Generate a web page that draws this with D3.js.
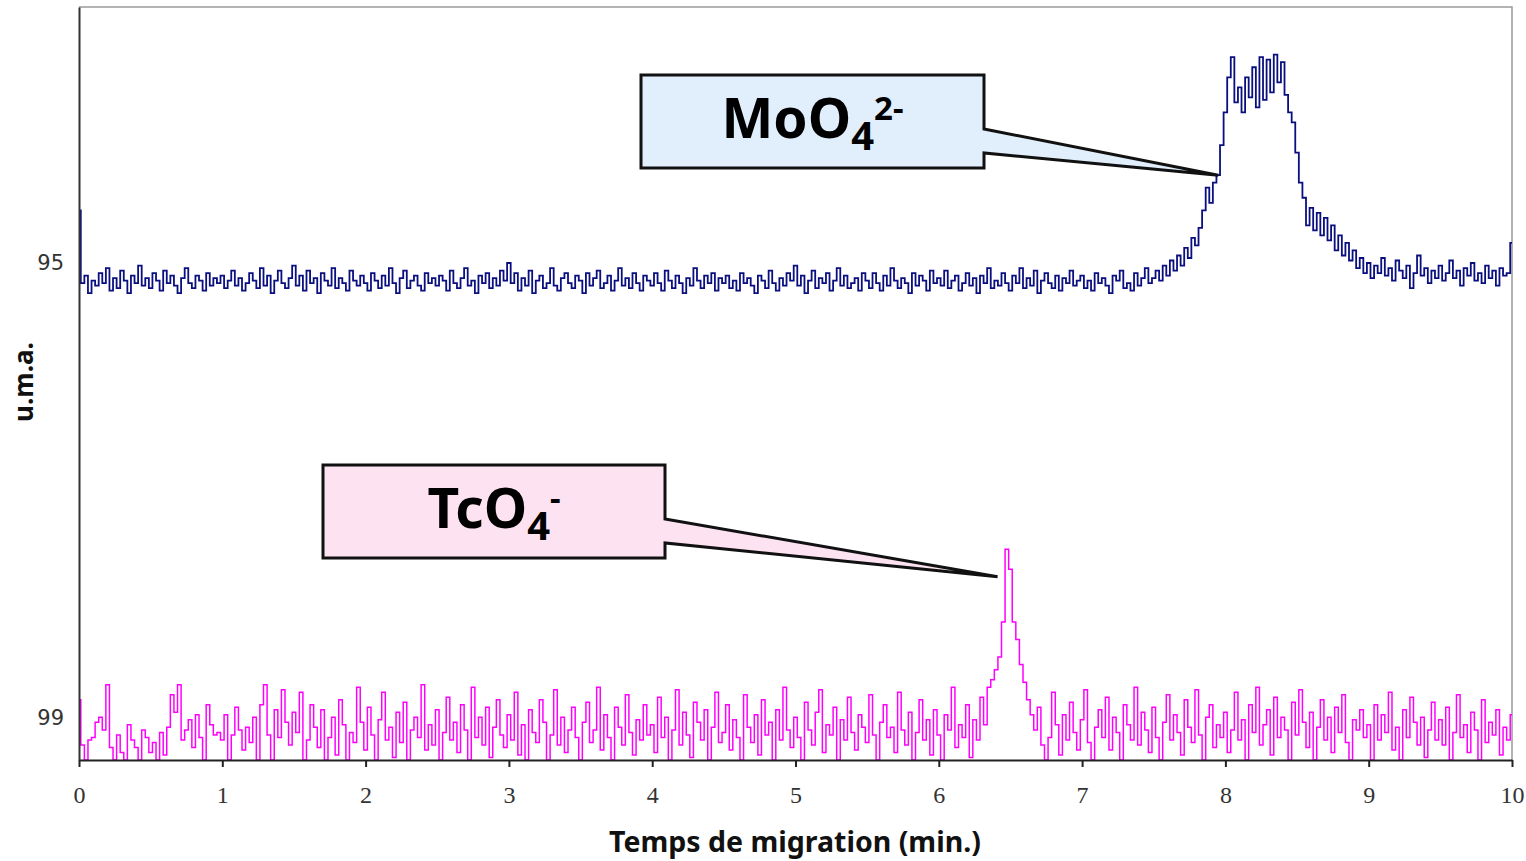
<!DOCTYPE html>
<html>
<head>
<meta charset="utf-8">
<script src="https://cdn.jsdelivr.net/npm/d3@7"></script>
<style>
  html, body { margin: 0; padding: 0; background: #ffffff; }
  svg { display: block; }
</style>
</head>
<body>
<svg id="chart" width="1526" height="861"></svg>
<script>
// Electropherogram: signal at m/z 95 (MoO4 2-) and m/z 99 (TcO4-), sampled every 0.025 min
const timeStep = 0.025;

// m/z 95 trace (arbitrary units, offset trace)
const mo95 = [
  219,190,193,186,191,189,194,190,196,187,192,188,195,191,186,193,190,197,189,192,
  188,194,191,187,195,190,193,189,186,192,196,190,188,193,191,187,194,189,192,190,
  193,188,191,195,189,192,187,190,194,191,188,196,189,193,186,191,195,190,188,192,
  197,189,193,187,195,190,192,186,194,191,189,196,188,192,190,187,195,191,189,193,
  190,187,194,191,188,193,189,196,190,186,192,195,188,191,193,189,187,194,190,192,
  189,193,191,187,195,190,188,192,196,189,191,186,193,190,194,188,192,189,195,191,
  198,190,194,187,192,189,195,186,191,193,188,190,196,189,187,192,194,190,188,193,
  191,186,194,189,192,195,188,190,193,187,191,196,189,192,188,194,190,187,193,191,
  189,194,190,187,195,191,188,193,190,186,192,189,196,191,188,193,190,194,187,192,
  190,193,188,191,187,194,190,192,189,186,193,191,188,195,190,187,192,189,194,191,
  197,189,193,186,191,195,188,192,190,194,187,191,196,189,193,188,190,192,187,194,
  191,188,194,190,187,193,189,196,191,188,192,190,186,194,189,193,191,187,195,190,
  192,189,195,188,191,193,187,190,194,189,192,186,193,190,196,188,191,189,194,190,
  187,193,190,196,188,192,189,195,186,191,194,190,188,193,187,192,190,195,189,191,
  193,188,191,187,194,190,192,189,186,193,191,195,188,190,187,194,189,192,196,190,
  192,195,191,197,193,199,195,201,197,204,200,208,205,212,219,228,222,230,233,245,
  258,272,280,262,268,258,272,264,276,260,280,263,279,266,281,270,278,265,258,254,
  242,230,224,213,220,211,218,209,216,207,213,203,209,201,206,199,203,196,200,194,
  198,192,197,194,200,193,196,191,199,195,192,197,188,194,201,193,196,190,195,192,
  197,191,194,199,192,195,189,196,193,198,191,194,190,197,192,195,189,196,193,194,
  206
];

// m/z 99 trace (arbitrary units)
const tc99 = [
  24,6,0,8,9,15,17,12,30,5,0,10,3,0,14,8,5,0,12,9,
  3,7,0,11,2,13,26,19,30,8,12,16,5,18,9,0,22,14,10,11,
  8,18,0,10,21,12,4,13,7,17,0,22,30,10,0,20,9,28,15,6,
  19,11,27,0,8,22,13,5,20,0,9,17,2,24,14,0,11,7,29,15,
  4,21,10,0,16,27,8,13,1,19,7,23,0,12,17,9,30,4,14,6,
  20,0,11,25,8,15,3,22,12,0,29,9,17,6,21,1,13,24,10,5,
  18,8,27,2,14,0,20,11,7,24,15,0,10,28,6,17,3,12,21,9,
  0,15,23,7,12,29,4,18,9,0,21,13,6,26,11,2,16,8,22,10,
  14,3,25,9,17,0,12,28,6,19,10,1,23,15,8,20,0,13,27,7,
  11,22,4,16,9,0,26,13,7,18,2,24,10,15,0,20,8,29,12,5,
  17,9,0,23,12,6,19,28,3,14,10,21,0,16,8,25,11,4,18,13,
  7,26,10,0,15,22,9,13,3,27,12,6,19,0,11,24,8,16,2,20,
  10,0,18,12,29,5,14,9,22,1,16,8,25,14,29,32,36,41,55,84,
  76,55,48,38,31,24,18,12,21,6,0,9,27,14,2,18,8,23,11,4,
  16,28,7,0,13,20,9,25,4,17,11,0,22,14,8,29,6,19,12,3,
  21,9,0,15,26,8,18,11,2,24,13,7,28,10,0,17,22,5,14,9,
  19,3,12,27,8,16,0,22,11,29,6,14,20,2,25,9,17,12,0,23,
  10,28,15,5,19,0,13,24,8,17,3,21,11,26,7,0,16,12,20,9,
  14,0,22,8,18,11,27,4,13,0,20,9,25,15,6,17,1,12,23,8,
  16,6,21,0,11,26,9,14,3,19,12,0,24,7,15,10,20,2,13,8,
  18
];

const xTicks = [0, 1, 2, 3, 4, 5, 6, 7, 8, 9, 10];
const yTickValues = [198, 17];
const yTickLabels = ["95", "99"];

// Peak annotations: ion name parts and the point (time, signal) the callout points to
const ionNames = ["MoO", "TcO"];
const ionSubs = ["4", "4"];
const ionSups = ["2-", "-"];
const ionTipTime = [7.95, 6.41];
const ionTipValue = [233, 73];

const W = 1526, H = 861;
const margin = { top: 7, right: 14, bottom: 101, left: 79 };

const svg = d3.select("#chart");

const x = d3.scaleLinear().domain([0, 10]).range([margin.left, W - margin.right]);
const y = d3.scaleLinear().domain([0, 300]).range([H - margin.bottom, margin.top]);

// Plot frame (top and right edges)
svg.append("path")
  .attr("d", `M${x(0)},${y(300)}H${x(10)}V${y(0)}`)
  .attr("fill", "none")
  .attr("stroke", "#9a9a9a")
  .attr("stroke-width", 1.5);

const seriesLine = d3.line()
  .x((d, i) => x(i * timeStep))
  .y(d => y(d))
  .curve(d3.curveStep);

svg.append("path")
  .datum(tc99)
  .attr("d", seriesLine)
  .attr("fill", "none")
  .attr("stroke", "#ff00ff")
  .attr("stroke-width", 1.5);

svg.append("path")
  .datum(mo95)
  .attr("d", seriesLine)
  .attr("fill", "none")
  .attr("stroke", "#0a0f80")
  .attr("stroke-width", 1.8);

// Axes
const xAxis = svg.append("g")
  .attr("transform", `translate(0,${y(0)})`)
  .call(d3.axisBottom(x).tickValues(xTicks).tickSize(7).tickSizeOuter(0).tickPadding(19).tickFormat(d3.format("d")));
xAxis.select(".domain").attr("stroke", "#222").attr("stroke-width", 2);
xAxis.selectAll(".tick line").attr("stroke", "#222").attr("stroke-width", 2);
xAxis.selectAll(".tick text")
  .attr("fill", "#333")
  .style("font-family", "'Liberation Serif', 'DejaVu Serif', serif")
  .style("font-size", "24px");

const yAxis = svg.append("g")
  .attr("transform", `translate(${x(0)},0)`)
  .call(d3.axisLeft(y).tickValues(yTickValues).tickSize(0).tickSizeOuter(0).tickPadding(15)
    .tickFormat((d, i) => yTickLabels[i]));
yAxis.select(".domain").attr("stroke", "#333").attr("stroke-width", 2);
yAxis.selectAll(".tick text")
  .attr("fill", "#333")
  .style("font-family", "'DejaVu Sans', sans-serif")
  .style("font-size", "21px");

// Axis titles
svg.append("text")
  .attr("x", 795)
  .attr("y", 852)
  .attr("text-anchor", "middle")
  .style("font-family", "'Noto Sans', 'DejaVu Sans', sans-serif")
  .style("font-weight", "bold")
  .style("font-size", "28.5px")
  .attr("fill", "#111")
  .text("Temps de migration (min.)");

svg.append("text")
  .attr("transform", "translate(33,382) rotate(-90)")
  .attr("text-anchor", "middle")
  .style("font-family", "'Noto Sans', 'DejaVu Sans', sans-serif")
  .style("font-weight", "bold")
  .style("font-size", "26px")
  .attr("fill", "#111")
  .text("u.m.a.");

// Callouts
const calloutBoxes = [
  { x0: 641, y0: 75, x1: 984, y1: 168, j0: 129, j1: 153, fill: "#e1effc" },
  { x0: 323, y0: 465, x1: 665, y1: 558, j0: 519, j1: 543, fill: "#fde3f2" }
];

calloutBoxes.forEach((b, i) => {
  const tx = x(ionTipTime[i]), ty = y(ionTipValue[i]);
  const shape = `M${b.x0},${b.y0}H${b.x1}V${b.j0}L${tx},${ty}L${b.x1},${b.j1}V${b.y1}H${b.x0}Z`;
  svg.append("path")
    .attr("d", shape)
    .attr("fill", b.fill)
    .attr("stroke", "#111")
    .attr("stroke-width", 3)
    .attr("stroke-linejoin", "miter");

  const label = svg.append("text")
    .attr("x", (b.x0 + b.x1) / 2)
    .attr("y", b.y0 + 63)
    .attr("text-anchor", "middle")
    .style("font-family", "'Noto Sans', 'DejaVu Sans', sans-serif")
    .style("font-weight", "bold")
    .attr("fill", "#000");
  label.append("tspan").style("font-size", "55px").text(ionNames[i]);
  label.append("tspan").style("font-size", "40px").attr("dy", 12).text(ionSubs[i]);
  label.append("tspan").style("font-size", "33px").attr("dy", -30).text(ionSups[i]);
});
</script>
</body>
</html>
